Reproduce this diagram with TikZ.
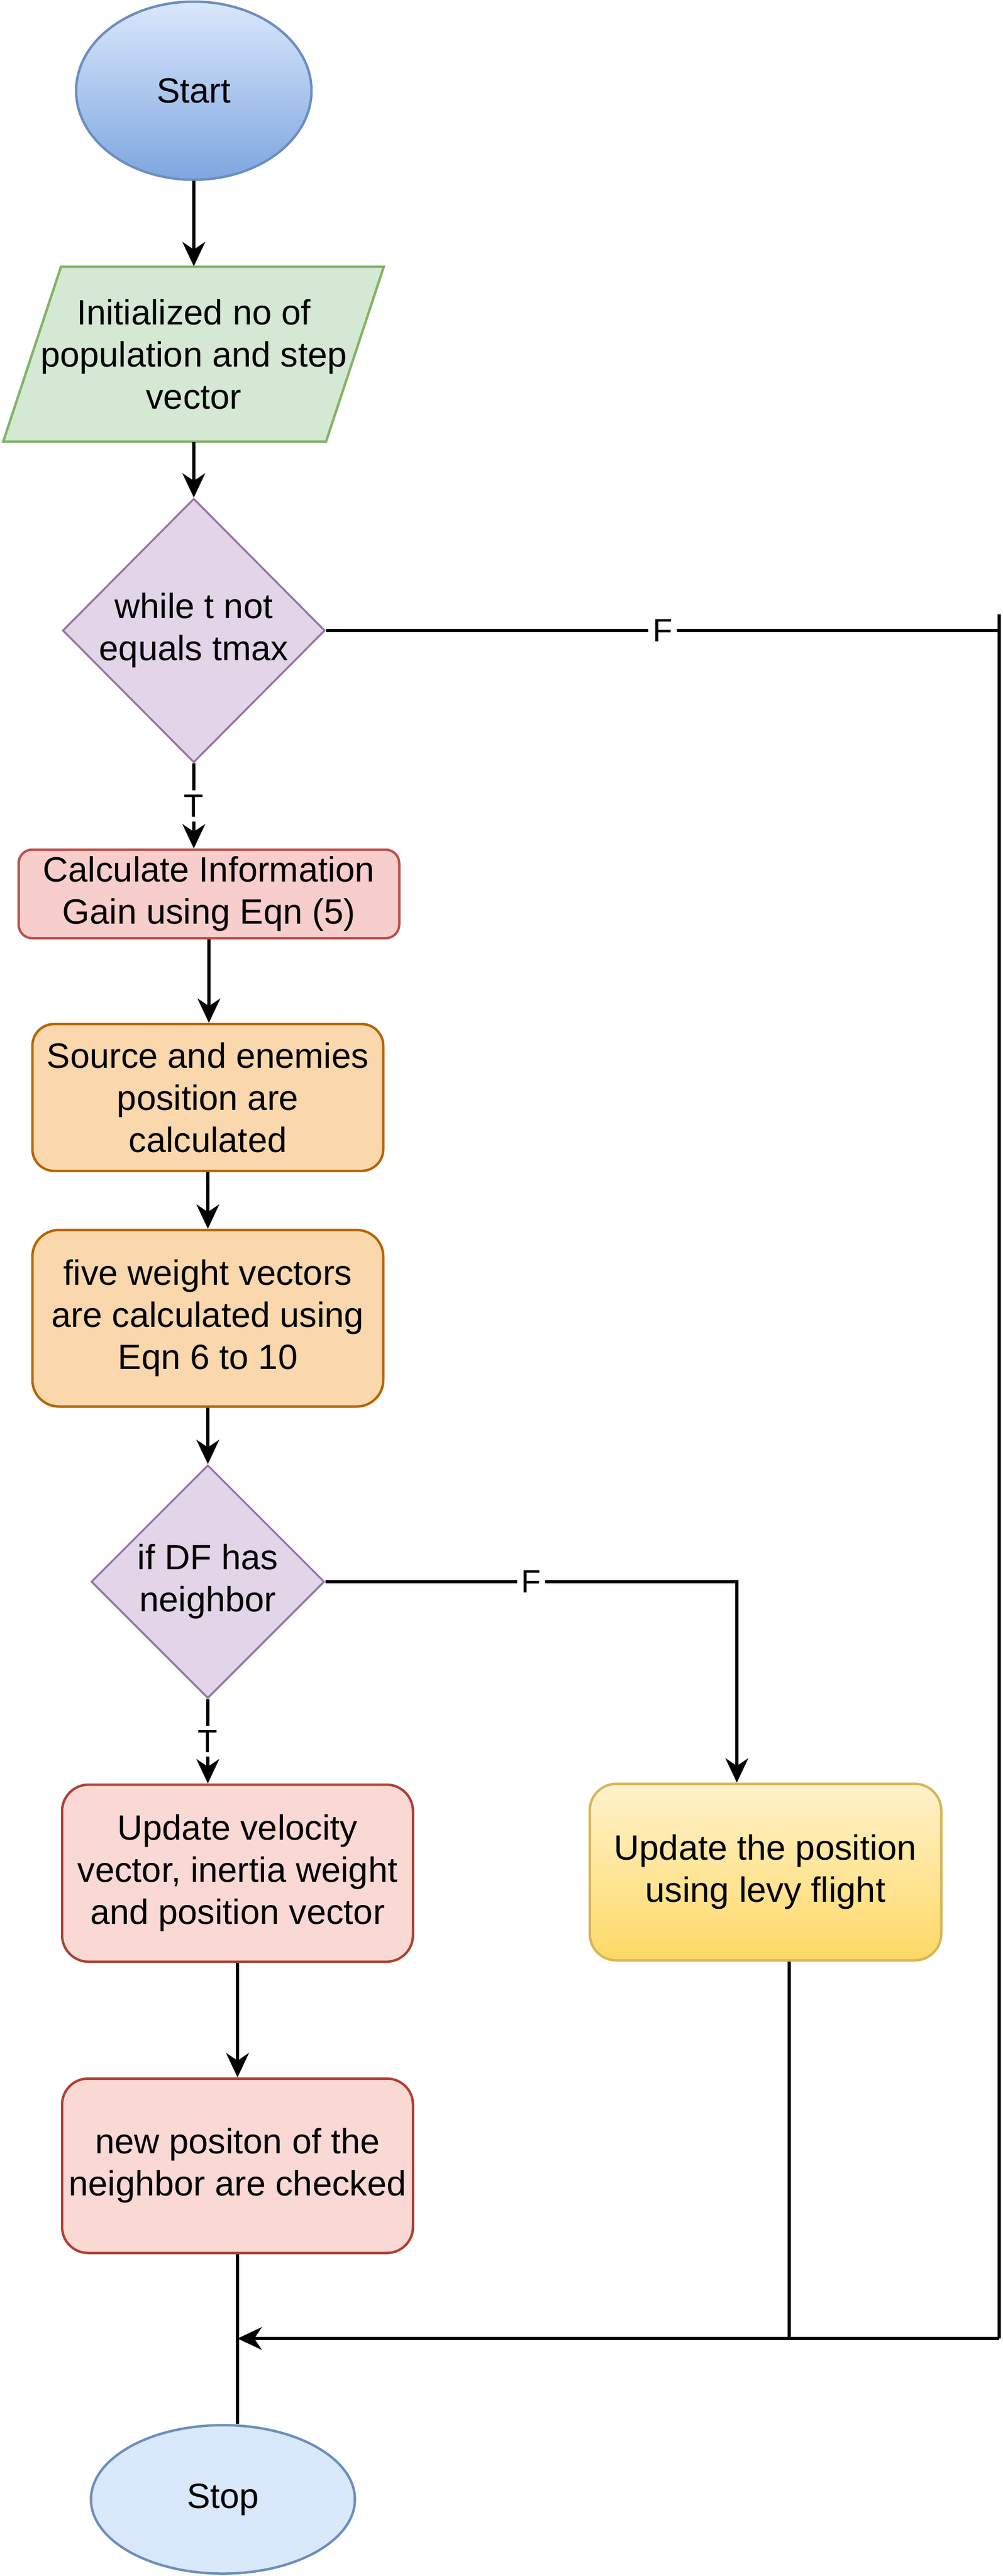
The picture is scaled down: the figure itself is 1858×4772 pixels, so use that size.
\documentclass[tikz,border=0pt]{standalone}
\usepackage{fontspec}
\setmainfont{Liberation Sans}
\usetikzlibrary{shapes.geometric,arrows.meta,calc}
\definecolor{bluefill}{HTML}{DAE8FC}
\definecolor{bluedark}{HTML}{7EA6E0}
\definecolor{bluestroke}{HTML}{6C8EBF}
\definecolor{greenfill}{HTML}{D5E8D4}
\definecolor{greenstroke}{HTML}{82B366}
\definecolor{purplefill}{HTML}{E1D5E7}
\definecolor{purplestroke}{HTML}{9673A6}
\definecolor{redfill}{HTML}{F8CECC}
\definecolor{redstroke}{HTML}{B85450}
\definecolor{orangefill}{HTML}{FAD7AC}
\definecolor{orangestroke}{HTML}{B46504}
\definecolor{pinkfill}{HTML}{FAD9D5}
\definecolor{pinkstroke}{HTML}{AE4132}
\definecolor{yellowtop}{HTML}{FFF2CC}
\definecolor{yellowbot}{HTML}{FFD966}
\definecolor{yellowstroke}{HTML}{D6B656}
\begin{document}
\begin{tikzpicture}[x=0.1mm,y=-0.1mm,
  mainfont/.style={font=\fontsize{18.5pt}{22.2pt}\selectfont},
  lblfont/.style={font=\fontsize{17pt}{20pt}\selectfont},
  txt/.style={mainfont, align=center, inner sep=0pt},
  boxbase/.style={rectangle, draw, line width=0.45mm, minimum width=65mm, align=center, mainfont, inner sep=0pt},
  redbox/.style={boxbase, fill=redfill, draw=redstroke},
  orangebox/.style={boxbase, fill=orangefill, draw=orangestroke},
  pinkbox/.style={boxbase, fill=pinkfill, draw=pinkstroke},
  yellowbox/.style={boxbase, top color=yellowtop, bottom color=yellowbot, draw=yellowstroke},
  dia/.style={diamond, draw=purplestroke, fill=purplefill, line width=0.35mm, inner sep=0pt},
  conn/.style={draw=black, line width=0.6mm, -{Stealth[length=4.5mm,width=4.2mm,inset=1.4mm]}},
  plainline/.style={draw=black, line width=0.6mm},
  lbl/.style={fill=white, lblfont, inner sep=0.8mm}
]
\useasboundingbox (0,0) rectangle (1858,4772);

% Start
\node[ellipse, draw=bluestroke, line width=0.45mm, top color=bluefill, bottom color=bluedark,
      minimum width=43.6mm, minimum height=33mm, inner sep=0pt, mainfont] (start) at (359,168) {Start};

% Parallelogram
\filldraw[fill=greenfill, draw=greenstroke, line width=0.45mm]
  (113,494) -- (711,494) -- (604,818) -- (6,818) -- cycle;
\node[txt, minimum width=70.5mm, minimum height=32.4mm] (init) at (359,656)
  {Initialized no of\\population and step\\vector};

% Diamond 1
\node[dia, minimum width=48.6mm, minimum height=48.9mm] (d1) at (359,1168) {};
\node[txt] (d1t) at (d1.center) {while t not\\equals tmax};

% Boxes
\node[redbox, minimum width=70.5mm, minimum height=16.4mm, rounded corners=2.5mm] (box1) at (387,1656)
  {Calculate Information\\Gain using Eqn (5)};
\node[orangebox, minimum height=27.2mm, rounded corners=4mm] (box2) at (385,2033)
  {Source and enemies\\position are\\calculated};
\node[orangebox, minimum height=32.7mm, rounded corners=4.9mm] (box3) at (385,2442)
  {five weight vectors\\are calculated using\\Eqn 6 to 10};

% Diamond 2
\node[dia, minimum width=43.2mm, minimum height=43.2mm] (d2) at (385,2930) {};
\node[txt] (d2t) at (d2.center) {if DF has\\neighbor};

\node[pinkbox, minimum height=32.8mm, rounded corners=4.9mm] (box4) at (440,3470)
  {Update velocity\\vector, inertia weight\\and position vector};
\node[yellowbox, minimum width=65.1mm, minimum height=32.7mm, rounded corners=4.9mm] (box5) at (1418,3468)
  {Update the position\\using levy flight};
\node[pinkbox, minimum height=32.3mm, rounded corners=4.8mm] (box6) at (440,4012)
  {new positon of the\\neighbor are checked};

% Stop
\node[ellipse, draw=bluestroke, line width=0.45mm, fill=bluefill,
      minimum width=48.9mm, minimum height=27.5mm, inner sep=0pt, mainfont] (stop) at (413,4630) {Stop};

% Coordinates
\coordinate (rj) at (1851,1168);
\coordinate (rtop) at (1851,1138);
\coordinate (rbot) at (1851,4332);
\coordinate (mg) at (440,4332);
\coordinate (f5) at ($(box5.north)+(-53,0)$);
\coordinate (b5o) at ($(box5.south)+(44,0)$);

% Connectors
\draw[conn] (start.south) -- (init.north);
\draw[conn] (init.south) -- (d1.north);
\draw[conn] (d1.south) -- node[lbl]{T} (d1.south |- box1.north);
\draw[plainline] (d1.east) -- node[lbl]{F} (rj);
\draw[plainline] (rtop) -- (rbot);
\draw[conn] (rbot) -- (mg);
\draw[conn] (box1.south) -- (box1.south |- box2.north);
\draw[conn] (box2.south) -- (box3.north);
\draw[conn] (box3.south) -- (d2.north);
\draw[conn] (d2.east) -- node[lbl]{F} (d2.east -| f5) -- (f5);
\draw[conn] (d2.south) -- node[lbl]{T} (d2.south |- box4.north);
\draw[conn] (box4.south) -- (box6.north);
\draw[plainline] (box6.south) -- (box6.south |- stop.north);
\draw[plainline] (b5o) -- (b5o |- mg);
\end{tikzpicture}
\end{document}
